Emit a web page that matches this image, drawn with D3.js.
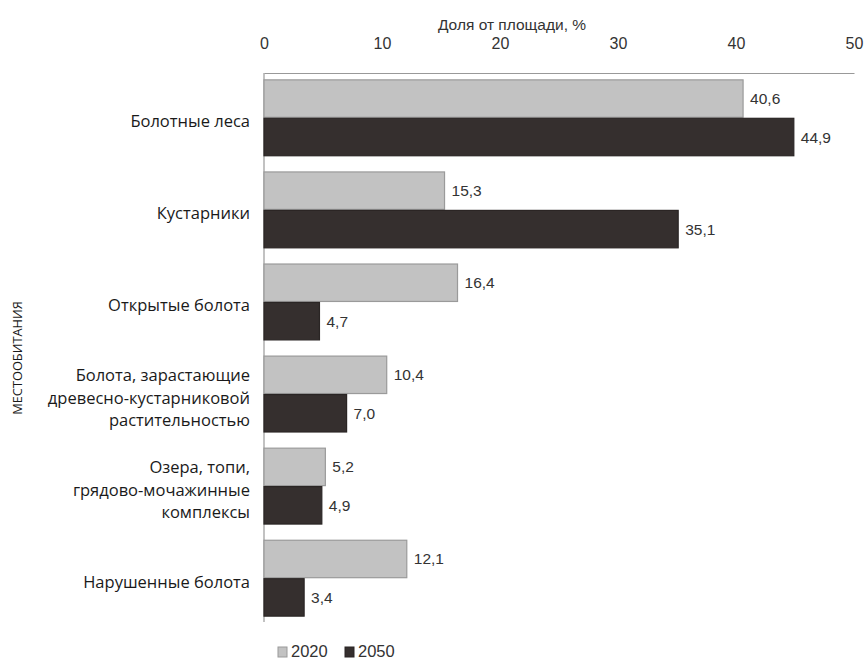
<!DOCTYPE html>
<html><head><meta charset="utf-8">
<script src="https://cdn.jsdelivr.net/npm/d3@7"></script>
<style>
body{margin:0;background:#fff;}
svg{display:block;}
</style></head>
<body><svg id="chart" width="865" height="664"></svg>
<script>
const categories = [
  ["Болотные леса"],
  ["Кустарники"],
  ["Открытые болота"],
  ["Болота, зарастающие","древесно-кустарниковой","растительностью"],
  ["Озера, топи,","грядово-мочажинные","комплексы"],
  ["Нарушенные болота"]
];
const series = ["2020","2050"];
const values2020 = [40.6, 15.3, 16.4, 10.4, 5.2, 12.1];
const values2050 = [44.9, 35.1, 4.7, 7.0, 4.9, 3.4];
const tickValues = [0,10,20,30,40,50];
const xTitle = "Доля от площади, %";
const yTitle = "МЕСТООБИТАНИЯ";

const colors = {"2020":"#c2c2c2","2050":"#352f2e"};
const strokes = {"2020":"#9a9a9a","2050":"#2a2524"};

const svg = d3.select("#chart");
const x0 = 264, x1 = 854;
const x = d3.scaleLinear().domain([0,50]).range([x0,x1]);
const y = d3.scaleBand().domain(d3.range(categories.length)).range([72,624]).paddingInner(0.165).paddingOuter(0.08);
const ys = d3.scaleBand().domain(series).range([0,y.bandwidth()]);

const data = categories.map((c,i)=>({i, label:c, vals:[{s:"2020",v:values2020[i]},{s:"2050",v:values2050[i]}]}));

// axis (top)
const axis = d3.axisTop(x).tickValues(tickValues).tickSize(0).tickPadding(0).tickFormat(d3.format("d"));
const ag = svg.append("g").attr("transform","translate(0,73)").call(axis);
ag.select(".domain").attr("stroke","#999").attr("stroke-width",1.2);
ag.selectAll("text").attr("y",-24).attr("dy",0).attr("font-family","Liberation Sans, Arial, sans-serif").attr("font-size",16).attr("fill","#333");

// vertical axis line
svg.append("line").attr("x1",x0).attr("x2",x0).attr("y1",73).attr("y2",622).attr("stroke","#999").attr("stroke-width",1.2);

svg.append("text").attr("x",512).attr("y",30).attr("text-anchor","middle")
  .attr("font-family","Liberation Sans, Arial, sans-serif").attr("font-size",15.5).attr("fill","#333").text(xTitle);

const g = svg.selectAll("g.cat").data(data).join("g").attr("class","cat")
  .attr("transform",d=>`translate(0,${y(d.i)})`);

g.selectAll("rect").data(d=>d.vals).join("rect")
  .attr("x",x(0)).attr("y",d=>ys(d.s)+0.5)
  .attr("width",d=>x(d.v)-x(0)).attr("height",ys.bandwidth()-1)
  .attr("fill",d=>colors[d.s]).attr("stroke",d=>strokes[d.s]).attr("stroke-width",1.2);

g.selectAll("text.val").data(d=>d.vals).join("text").attr("class","val")
  .attr("x",d=>x(d.v)+7).attr("y",d=>ys(d.s)+ys.bandwidth()/2+5.5)
  .attr("font-family","Liberation Sans, Arial, sans-serif").attr("font-size",15.5).attr("fill","#333")
  .text(d=>d.v.toFixed(1).replace(".",","));

// category labels
const lh = 22.6;
g.each(function(d){
  const n = d.label.length;
  const t = d3.select(this).append("text").attr("text-anchor","end")
    .attr("font-family","Open Sans, Noto Sans, sans-serif").attr("font-size",16.5).attr("fill","#1a1a1a");
  d.label.forEach((line,k)=>{
    t.append("tspan").attr("x",250).attr("y", y.bandwidth()/2 + 9.5 + (k-(n-1)/2)*lh).text(line);
  });
});

// y title
svg.append("text").attr("transform","translate(22,358) rotate(-90)").attr("text-anchor","middle")
  .attr("font-family","Open Sans, Noto Sans, sans-serif").attr("font-size",12.8).attr("fill","#1a1a1a").text(yTitle);

// legend
const lg = svg.append("g").attr("transform","translate(278,657)");
const lx = [0, 67];
series.forEach((s,k)=>{
  lg.append("rect").attr("x",lx[k]).attr("y",-10).attr("width",9).attr("height",10).attr("fill",colors[s]).attr("stroke",strokes[s]);
  lg.append("text").attr("x",lx[k]+13).attr("y",0).attr("font-family","Liberation Sans, Arial, sans-serif")
    .attr("font-size",16.5).attr("fill","#333").text(s);
});
</script></body></html>
